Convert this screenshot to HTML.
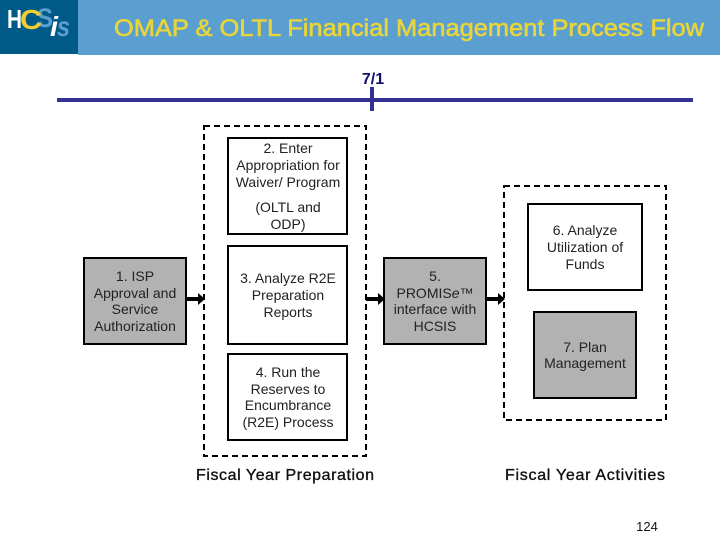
<!DOCTYPE html>
<html><head><meta charset="utf-8"><style>
html,body{margin:0;padding:0;background:#fff}
svg{display:block}
text{font-family:"Liberation Sans",sans-serif}
.t{font-size:14px;fill:#222;text-anchor:middle}
.b{fill:#fff;stroke:#000;stroke-width:2}
.g{fill:#b2b2b2;stroke:#000;stroke-width:2}
.d{fill:none;stroke:#000;stroke-width:2;stroke-dasharray:6 4}
.f{font-size:16px;fill:#111;stroke:#111;stroke-width:.35}
</style></head><body>
<svg width="720" height="540" viewBox="0 0 720 540" xmlns="http://www.w3.org/2000/svg">
<rect width="720" height="540" fill="#fff"/>
<rect x="78" y="0" width="642" height="55" fill="#5b9fd0"/>
<rect x="0" y="0" width="78" height="54" fill="#005a87"/>
<text x="7" y="28" font-size="26" font-weight="bold" fill="#fff" textLength="15" lengthAdjust="spacingAndGlyphs">H</text>
<text x="37" y="27" font-size="27" font-weight="bold" fill="#5b9fd0" textLength="16" lengthAdjust="spacingAndGlyphs">S</text>
<text x="20" y="29" font-size="28" font-weight="bold" fill="#f2cf30" textLength="22" lengthAdjust="spacingAndGlyphs">C</text>
<text x="50" y="36" font-size="28" font-weight="bold" font-style="italic" fill="#fff" textLength="8" lengthAdjust="spacingAndGlyphs">i</text>
<text x="57" y="36" font-size="28" font-style="italic" font-weight="bold" fill="#5b9fd0" textLength="13" lengthAdjust="spacingAndGlyphs">s</text>
<text x="114" y="36" font-size="24" fill="#e8d53a" stroke="#e8d53a" stroke-width=".6" textLength="590" lengthAdjust="spacingAndGlyphs">OMAP &amp; OLTL Financial Management Process Flow</text>

<text x="373" y="84" font-size="16" font-weight="bold" fill="#10106a" text-anchor="middle">7/1</text>
<rect x="57" y="98" width="636" height="4" fill="#353191"/>
<rect x="370" y="87" width="4" height="24" fill="#353191"/>

<rect class="d" x="204" y="126" width="162" height="330"/>
<rect class="d" x="504" y="186" width="162" height="234"/>

<rect class="b" x="228" y="138" width="119" height="96"/>
<rect class="b" x="228" y="246" width="119" height="98"/>
<rect class="b" x="228" y="354" width="119" height="86"/>
<rect class="g" x="84" y="258" width="102" height="86"/>
<rect class="g" x="384" y="258" width="102" height="86"/>
<rect class="b" x="528" y="204" width="114" height="86"/>
<rect class="g" x="534" y="312" width="102" height="86"/>

<rect x="186" y="297" width="14" height="4" fill="#000"/><polygon points="198,293 205,299 198,305" fill="#000"/>
<rect x="366" y="297" width="14" height="4" fill="#000"/><polygon points="378,293 385,299 378,305" fill="#000"/>
<rect x="486" y="297" width="14" height="4" fill="#000"/><polygon points="498,293 505,299 498,305" fill="#000"/>

<text class="t" x="288" y="153">2. Enter</text>
<text class="t" x="288" y="170">Appropriation for</text>
<text class="t" x="288" y="187">Waiver/ Program</text>
<text class="t" x="288" y="212">(OLTL and</text>
<text class="t" x="288" y="229">ODP)</text>

<text class="t" x="288" y="283">3. Analyze R2E</text>
<text class="t" x="288" y="300">Preparation</text>
<text class="t" x="288" y="317">Reports</text>

<text class="t" x="288" y="377">4. Run the</text>
<text class="t" x="288" y="394">Reserves to</text>
<text class="t" x="288" y="410">Encumbrance</text>
<text class="t" x="288" y="427">(R2E) Process</text>

<text class="t" x="135" y="281">1. ISP</text>
<text class="t" x="135" y="298">Approval and</text>
<text class="t" x="135" y="314">Service</text>
<text class="t" x="135" y="331">Authorization</text>

<text class="t" x="435" y="281">5.</text>
<text class="t" x="435" y="298">PROMIS<tspan font-style="italic">e</tspan>™</text>
<text class="t" x="435" y="314">interface with</text>
<text class="t" x="435" y="331">HCSIS</text>

<text class="t" x="585" y="235">6. Analyze</text>
<text class="t" x="585" y="252">Utilization of</text>
<text class="t" x="585" y="269">Funds</text>

<text class="t" x="585" y="352">7. Plan</text>
<text class="t" x="585" y="368">Management</text>

<text class="f" x="196" y="480" textLength="178">Fiscal Year Preparation</text>
<text class="f" x="505" y="480" textLength="160">Fiscal Year Activities</text>
<text x="647" y="531" font-size="13" fill="#111" text-anchor="middle">124</text>
</svg>
</body></html>
